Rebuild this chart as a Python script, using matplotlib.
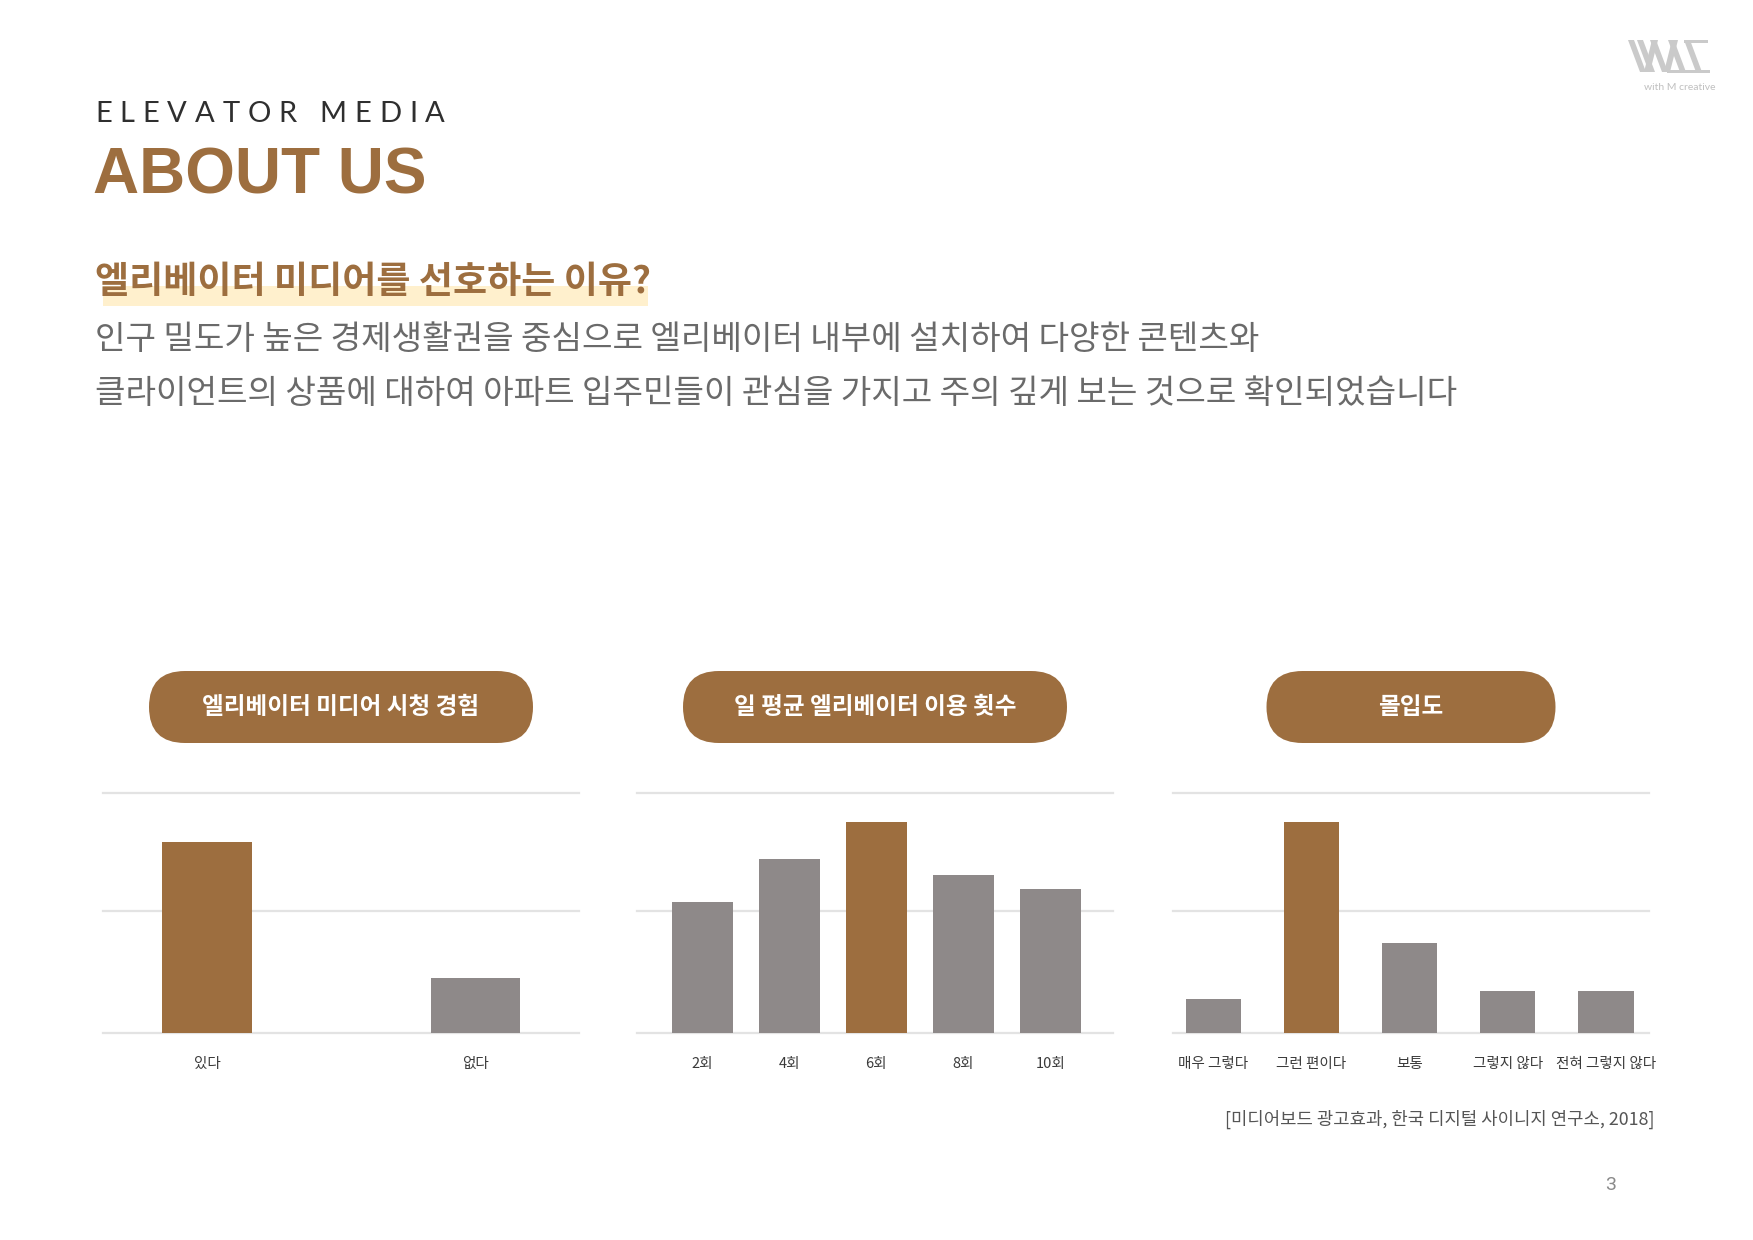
import matplotlib
matplotlib.use("Agg")
import matplotlib.pyplot as plt
from matplotlib.patches import FancyBboxPatch, Rectangle, Polygon
from matplotlib.font_manager import FontProperties

plt.rcParams['font.family'] = ['Noto Sans CJK KR', 'DejaVu Sans']

BROWN = '#9D6E3F'
GREY = '#8E8989'
GRID = '#e3e3e3'

# --- data ---
exp_labels = ['있다', '없다']
exp_values = [79.7, 22.9]

freq_labels = ['2회', '4회', '6회', '8회', '10회']
freq_values = [54.4, 72.5, 87.8, 65.9, 59.8]

focus_labels = ['매우 그렇다', '그런 편이다', '보통', '그렇지 않다', '전혀 그렇지 않다']
focus_values = [14.1, 87.8, 37.3, 17.4, 17.4]

chart_titles = ['엘리베이터 미디어 시청 경험', '일 평균 엘리베이터 이용 횟수', '몰입도']
grid_values = [0, 51, 100]

W, H = 1753, 1240
fig = plt.figure(figsize=(W / 100, H / 100), dpi=100)

# page-sized axes in pixel units for text and decorations
bg = fig.add_axes([0, 0, 1, 1])
bg.set_xlim(0, W)
bg.set_ylim(H, 0)
bg.axis('off')

r = fig.canvas.get_renderer()


def tracked(x, y, s, total_w, **kw):
    # letter-spaced text stretched to a given width
    fp = FontProperties(family=kw.get('family'), size=kw.get('size'), weight=kw.get('weight', 'normal'))
    ws = [r.get_text_width_height_descent(ch, fp, ismath=False)[0] for ch in s]
    gap = (total_w - sum(ws)) / (len(s) - 1)
    for ch, w in zip(s, ws):
        bg.text(x, y, ch, ha='left', va='baseline', **kw)
        x += w + gap


tracked(95, 122, 'ELEVATOR MEDIA', 350, family=['Lato', 'DejaVu Sans'], size=21, color='#2f2f2f')
bg.text(93, 193, 'ABOUT US', family=['Liberation Sans', 'DejaVu Sans'], weight='bold', size=46,
        color=BROWN, va='baseline', ha='left')

bg.add_patch(Rectangle((103, 286), 545, 20, color='#FFF0CD', lw=0, zorder=1))
bg.text(95, 283, '엘리베이터 미디어를 선호하는 이유?', size=26.7, weight='bold', color=BROWN,
        va='center', ha='left', zorder=2)
bg.text(95, 339, '인구 밀도가 높은 경제생활권을 중심으로 엘리베이터 내부에 설치하여 다양한 콘텐츠와',
        size=23.9, color='#6a6a6a', va='center', ha='left')
bg.text(95, 394, '클라이언트의 상품에 대하여 아파트 입주민들이 관심을 가지고 주의 깊게 보는 것으로 확인되었습니다',
        size=23.9, color='#6a6a6a', va='center', ha='left')

# logo
LOGO = '#cacaca'
for xt, xb in [(1628, 1640), (1637, 1649), (1652, 1644), (1650, 1662), (1672, 1664), (1668, 1680), (1684, 1696)]:
    bg.add_patch(Polygon([(xt, 40), (xt + 6, 40), (xb + 6, 72), (xb, 72)], color=LOGO, lw=0))
bg.add_patch(Rectangle((1684, 40), 24, 3, color=LOGO, lw=0))
bg.add_patch(Rectangle((1667, 70), 43, 2.5, color=LOGO, lw=0))
bg.text(1680, 88, 'with M creative', size=7.5, color='#c0c0c0', ha='center', va='center',
        family=['Lato', 'DejaVu Sans'])

# charts
charts = [
    (exp_labels, exp_values, 0, (103, 579), (-0.387, 1.386), 0.334, 384),
    (freq_labels, freq_values, 2, (637, 1113), (-0.75, 4.72), 0.70, 384),
    (focus_labels, focus_values, 1, (1173, 1649), (-0.41, 4.44), 0.565, 289),
]
top, bottom = 793, 1033

for (labels, values, hi, (x0, x1), xlim, bw, pill_w), title in zip(charts, chart_titles):
    ax = fig.add_axes([x0 / W, 1 - bottom / H, (x1 - x0) / W, (bottom - top) / H])
    pos = list(range(len(labels)))
    colors = [BROWN if i == hi else GREY for i in pos]
    ax.bar(pos, values, width=bw, color=colors, zorder=2)
    for g in grid_values:
        ax.axhline(g, color=GRID, lw=1.6, zorder=1, clip_on=False)
    ax.set_xlim(*xlim)
    ax.set_ylim(0, 100)
    ax.set_yticks([])
    ax.set_xticks(pos)
    ax.set_xticklabels(labels, size=10.5, color='#3a3a3a')
    ax.tick_params(axis='x', length=0, pad=17)
    for s in ax.spines.values():
        s.set_visible(False)
    ax.patch.set_alpha(0)

    cx = (x0 + x1) / 2
    bg.add_patch(FancyBboxPatch((cx - pill_w / 2, 671), pill_w, 72,
                                boxstyle='round,pad=0,rounding_size=36',
                                fc=BROWN, ec='none'))
    bg.text(cx, 707, title, size=17, weight='bold', color='white', ha='center', va='center')

bg.text(1655, 1119, '[미디어보드 광고효과, 한국 디지털 사이니지 연구소, 2018]', size=12.8,
        color='#555555', ha='right', va='center')
bg.text(1611, 1185, '3', size=14, color='#8a8a8a', ha='center', va='center',
        family=['Roboto', 'DejaVu Sans'])

fig.savefig('out.png', dpi=100)
